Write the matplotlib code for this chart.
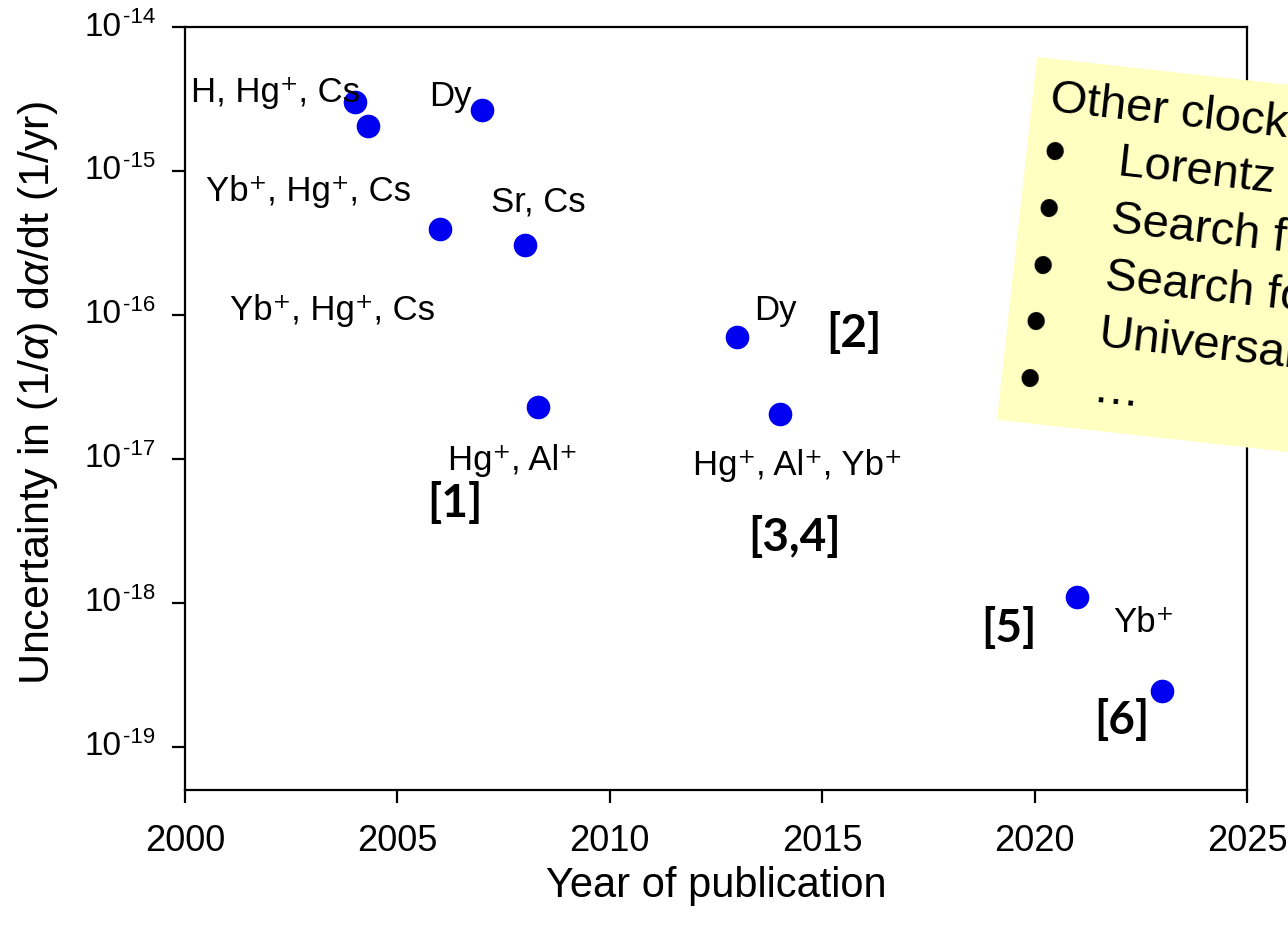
import numpy as np
import matplotlib
matplotlib.use('Agg')
from matplotlib import pyplot as plt
from matplotlib.patches import Polygon
from matplotlib.ticker import LogLocator, NullLocator

plt.rcParams['font.family'] = ['Liberation Sans', 'DejaVu Sans']
plt.rcParams['mathtext.fontset'] = 'custom'
plt.rcParams['mathtext.rm'] = 'Liberation Sans'
plt.rcParams['mathtext.it'] = 'Liberation Sans:italic'

# measurements: year of publication vs uncertainty
years = [2004.0, 2004.3, 2007.0, 2006.0, 2008.0, 2013.0, 2008.3, 2014.0, 2021.0, 2023.0]
uncert = [3.0e-15, 2.05e-15, 2.65e-15, 3.95e-16, 3.05e-16, 7.0e-17, 2.3e-17, 2.05e-17, 1.1e-18, 2.45e-19]

# clock species labels (x, y in data units)
species = ['H, Hg\u207a, Cs', 'Dy', 'Yb\u207a, Hg\u207a, Cs', 'Sr, Cs', 'Yb\u207a, Hg\u207a, Cs',
           'Dy', 'Hg\u207a, Al\u207a', 'Hg\u207a, Al\u207a, Yb\u207a', 'Yb\u207a']
species_x = [2000.15, 2005.75, 2000.5, 2007.2, 2001.05, 2013.4, 2006.2, 2011.95, 2021.85]
species_y = [3.5e-15, 3.3e-15, 7.2e-16, 6.1e-16, 1.07e-16, 1.07e-16, 9.8e-18, 9.0e-18, 7.3e-19]

# reference numbers
refs = ['[1]', '[2]', '[3,4]', '[5]', '[6]']
refs_x = [2005.7, 2015.1, 2013.25, 2018.75, 2021.4]
refs_y = [4.9e-18, 7.4e-17, 2.85e-18, 6.6e-19, 1.52e-19]

box_lines = ['Other clock tests', 'Lorentz invariance', 'Search for dark matter',
             'Search for new forces', 'Universality of redshift', '\u2026']

W, H = 1288, 931
fig = plt.figure(figsize=(W / 100, H / 100), dpi=100)
ax = fig.add_axes([185 / W, 1 - 790 / H, (1247 - 185) / W, (790 - 27) / H])

ax.plot(years, uncert, 'o', color='#0000f0', markersize=16, zorder=3)

ax.set_yscale('log')
ax.set_xlim(2000, 2025)
ax.set_ylim(5e-20, 1e-14)
ax.set_xticks(np.arange(2000, 2026, 5))
ax.yaxis.set_major_locator(LogLocator(base=10, numticks=10))
ax.yaxis.set_minor_locator(NullLocator())
ax.xaxis.set_minor_locator(NullLocator())
for s in ax.spines.values():
    s.set_linewidth(1.6)
ax.tick_params(direction='out', length=9.5, width=1.6, labelsize=26)
ax.tick_params(axis='x', pad=15)
ax.tick_params(axis='y', labelleft=False)

# y tick labels as "10" with a small exponent, like the original
lo, hi = ax.get_ylim()
for t in ax.get_yticks():
    if lo <= t <= hi:
        e = int(round(np.log10(t)))
        ax.annotate('10', xy=(0, t), xycoords=ax.get_yaxis_transform(), xytext=(-46, 0),
                    textcoords='offset points', ha='right', va='center', fontsize=24)
        ax.annotate('%d' % e, xy=(0, t), xycoords=ax.get_yaxis_transform(), xytext=(-21.5, 6.5),
                    textcoords='offset points', ha='right', va='center', fontsize=16)

ax.set_xlabel('Year of publication', fontsize=30, labelpad=5)
ax.set_ylabel(r'Uncertainty in (1/$\alpha$) d$\alpha$/dt (1/yr)', fontsize=31)
ax.yaxis.set_label_coords(-0.118, 0.52)

for t, x, y in zip(species, species_x, species_y):
    ax.text(x, y, t, fontsize=25, ha='left', va='center')
for t, x, y in zip(refs, refs_x, refs_y):
    ax.text(x, y, t, fontsize=33, fontweight='bold', family=['Lato', 'DejaVu Sans'],
            ha='left', va='center')

# yellow note, rotated slightly clockwise
th = np.deg2rad(6.3)
ox, oy = 1037, 57
uvec = np.array([np.cos(th), np.sin(th)])
vvec = np.array([-np.sin(th), np.cos(th)])


def to_fig(u, v):
    p = np.array([ox, oy]) + u * uvec + v * vvec
    return p[0] / W, 1 - p[1] / H


corners = [to_fig(0, 0), to_fig(420, 0), to_fig(420, 365), to_fig(0, 365)]
fig.add_artist(Polygon(corners, closed=True, transform=fig.transFigure,
                       facecolor='#ffffc2', edgecolor='none', zorder=10))

line_v = [40, 96.5, 153.8, 211, 268.2, 325.4]
for i, (t, v) in enumerate(zip(box_lines, line_v)):
    if i == 0:
        fig.text(*to_fig(18, v), t, fontsize=34, rotation=-6.3, rotation_mode='anchor',
                 ha='left', va='center', zorder=11)
    else:
        fig.text(*to_fig(28, v), '\u2022', fontsize=46, rotation=-6.3, rotation_mode='anchor',
                 ha='center', va='center', zorder=11)
        fig.text(*to_fig(92, v), t, fontsize=34, rotation=-6.3, rotation_mode='anchor',
                 ha='left', va='center', zorder=11)

fig.savefig('out.png', dpi=100)
